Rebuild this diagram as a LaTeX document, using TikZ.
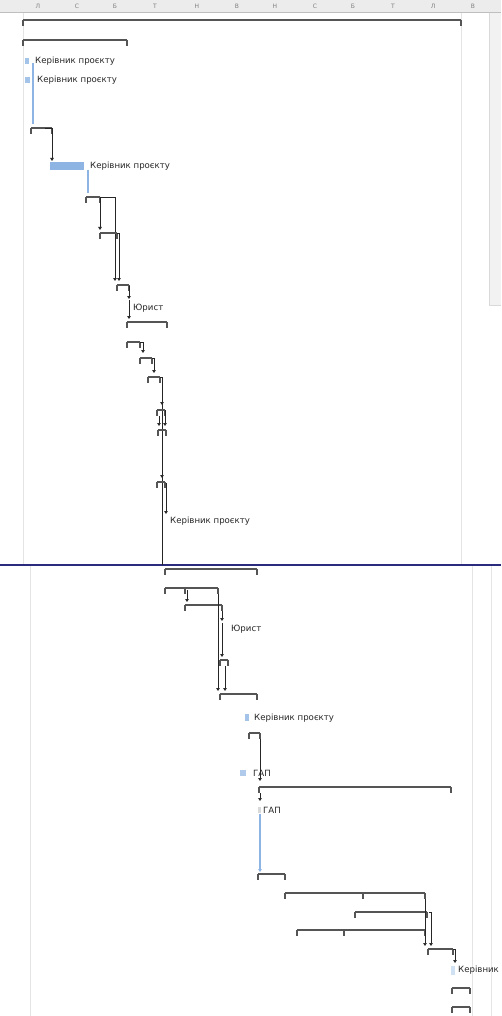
\documentclass[tikz,border=0pt]{standalone}
\usepackage{fontspec}
\setmainfont{DejaVu Sans}
\usetikzlibrary{arrows.meta}
\definecolor{txt}{HTML}{262626}
\definecolor{summc}{HTML}{555555}
\definecolor{barblue}{HTML}{8DB4E2}
\definecolor{hdr}{HTML}{ECECEC}
\definecolor{grid}{HTML}{E4E4E4}
\definecolor{sep}{HTML}{2B2B7E}
\newcommand\gsumm[3]{%
  \draw[summline] (#1,#3) -- (#2,#3);
  \draw[summtick] (#1,#3) -- ++(0,6);
  \draw[summtick] (#2,#3) -- ++(0,6);}
\tikzset{
  summline/.style={summc,line width=1.7pt},
  summtick/.style={summc,line width=1.2pt},
  conn/.style={black!85,line width=0.65pt,-{Triangle[length=3pt,width=3.6pt]}},
  plain/.style={black!85,line width=0.65pt},
  blueln/.style={barblue,line width=1.3pt},
  lbl/.style={anchor=west,inner sep=0pt,text=txt,font=\fontsize{8.6}{9}\selectfont},
  hlt/.style={inner sep=0pt,text=black!50,font=\fontsize{6}{7}\selectfont},
  msmark/.style={fill=barblue!80,draw=none}
}
\begin{document}
\begin{tikzpicture}[x=1pt,y=-1pt]
\useasboundingbox (0,0) rectangle (501,1016);
\fill[white] (0,0) rectangle (501,1016);
% header strip
\fill[hdr] (0,0) rectangle (501,12);
\draw[black!25,line width=0.6pt] (0,12) -- (501,12);
\foreach \xx/\ll [count=\i] in {38/Л,77/С,115/Б,155/Т,197/Н,237/В,275/Н,315/С,353/Б,393/Т,433/Л,473/В}
  \node[hlt] (h\i) at (\xx,6) {\ll};
% grid / frame lines
\draw[grid,line width=1pt] (23,13) -- (23,565);
\draw[grid,line width=1pt] (30,566) -- (30,1016);
\draw[grid,line width=0.8pt] (461,13) -- (461,565);
\draw[grid,line width=0.8pt] (472,566) -- (472,1016);
\fill[black!5] (489,13) rectangle (501,305);
\draw[black!15,line width=0.6pt] (489,13) -- (489,305) -- (501,305);
\draw[black!10,line width=0.8pt] (491,566) -- (491,1016);
\draw[sep,line width=1.4pt] (0,565) -- (501,565);

% ---------- top part ----------
\gsumm{23}{461}{20}
\gsumm{23}{127}{40}
\fill[msmark] (25,58) rectangle (29,64);
\node[lbl] (t1) at (35,61) {Керівник проєкту};
\fill[msmark] (25,77) rectangle (30,83);
\node[lbl] (t2) at (37,80) {Керівник проєкту};
\draw[blueln] (33,63) -- (33,124);
\gsumm{31}{52}{128}
\draw[conn] (45,128) -| (52,161);
\fill[barblue] (50,162) rectangle (84,170);
\node[lbl] (t3) at (90,166) {Керівник проєкту};
\draw[blueln] (88,170) -- (88,193);
\gsumm{86}{100}{197}
\draw[conn] (100,197) -- (100,230);
\draw[conn] (100,197) -- (115,197) -- (115,281);
\gsumm{100}{117}{233}
\draw[conn] (117,233) -- (119,233) -- (119,281);
\gsumm{117}{129}{285}
\draw[conn] (129,286) -- (129,299);
\node[lbl] (t4) at (133,308) {Юрист};
\draw[conn] (129,300) -- (129,319);
\gsumm{127}{167}{322}
\gsumm{127}{140}{342}
\draw[conn] (140,342) -- (143,342) -- (143,353);
\gsumm{140}{152}{358}
\draw[conn] (152,358) -- (154,358) -- (154,373);
\gsumm{148}{160}{377}
\draw[plain] (160,377) -- (162,377) -- (162,565);
\draw[conn] (162,396) -- (162,405);
\gsumm{157}{165}{410}
\draw[conn] (165,410) -- (165,426);
\draw[conn] (159,416) -- (159,426);
\gsumm{158}{166}{430}
\draw[conn] (162,468) -- (162,478);
\gsumm{157}{165}{482}
\draw[conn] (166,483) -- (166,514);
\node[lbl] (t5) at (170,521) {Керівник проєкту};

% ---------- bottom part ----------
\gsumm{165}{257}{569}
\gsumm{165}{218}{588}
\draw[summtick] (185,588) -- ++(0,6);
\draw[conn] (187,590) -- (187,602);
\gsumm{185}{222}{605}
\draw[conn] (218,594) -- (218,691);
\draw[conn] (222,611) -- (222,621);
\node[lbl] (t6) at (231,629) {Юрист};
\draw[conn] (222,623) -- (222,657);
\gsumm{220}{228}{660}
\draw[conn] (225,666) -- (225,691);
\gsumm{220}{257}{694}
\fill[msmark] (245,714) rectangle (249,721);
\node[lbl] (t7) at (254,718) {Керівник проєкту};
\gsumm{249}{260}{733}
\draw[conn] (260,739) -- (260,781);
\fill[barblue!70] (240,770) rectangle (246,776);
\node[lbl] (t8) at (253,773) {ГАП};
\gsumm{259}{451}{787}
\draw[conn] (260,793) -- (260,801);
\fill[black!15] (258,807) rectangle (261,813);
\node[lbl] (t9) at (263,810) {ГАП};
\draw[blueln,-{Triangle[length=3pt,width=3.6pt]}] (260,814) -- (260,872);
\gsumm{258}{285}{874}
\gsumm{285}{425}{893}
\draw[summtick] (363,893) -- ++(0,6);
\gsumm{355}{427}{912}
\gsumm{297}{425}{930}
\draw[summtick] (344,930) -- ++(0,6);
\draw[conn] (425,899) -- (425,946);
\draw[conn] (429,912) -- (431,912) -- (431,946);
\gsumm{428}{453}{949}
\draw[conn] (453,949) -- (455,949) -- (455,963);
\fill[barblue!40] (451,966) rectangle (455,975);
\node[lbl] (t10) at (458,970) {Керівник проєкту};
\gsumm{452}{470}{988}
\gsumm{452}{470}{1007}
\end{tikzpicture}
\end{document}
